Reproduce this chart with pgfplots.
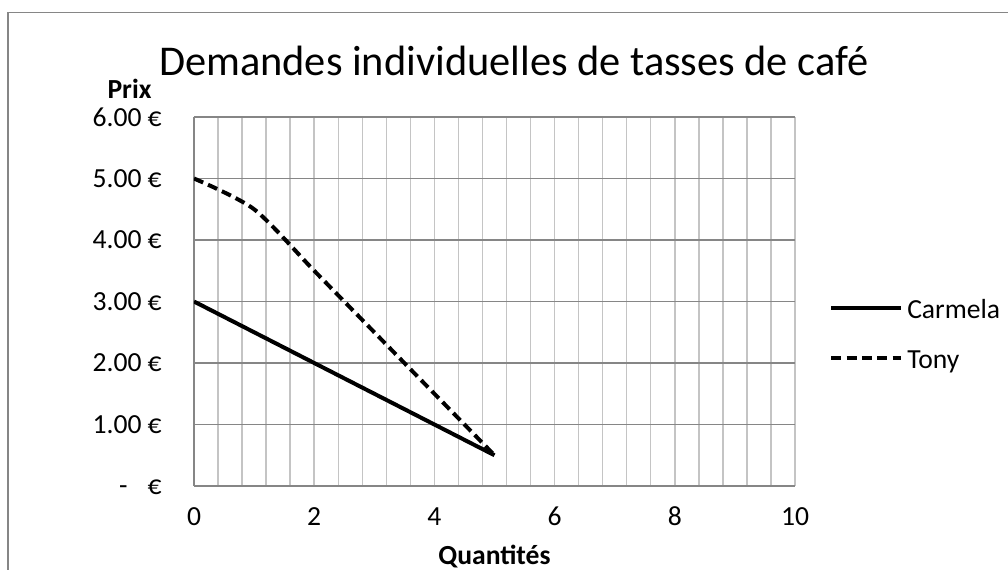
\documentclass[border=0pt]{standalone}
\usepackage{fontspec}
\setmainfont{Carlito}
\usepackage{pgfplots}
\pgfplotsset{compat=1.18}
\definecolor{axgray}{HTML}{868686}
\definecolor{gridlight}{HTML}{C4C4C4}
\begin{document}
\begin{tikzpicture}
\useasboundingbox (0,0) rectangle (756pt,427.5pt);
\draw[color=axgray, line width=1.1pt] (6pt,0pt) -- (6pt,418pt) -- (756pt,418pt);
\begin{axis}[
  at={(145.5pt,63pt)}, anchor=south west,
  scale only axis, width=450.75pt, height=276.75pt,
  xmin=0, xmax=10, ymin=0, ymax=6,
  xtick={0,2,...,10},
  minor xtick={0,0.4,...,10},
  ytick={0,1,2,3,4,5,6},
  yticklabels={{\phantom{0.}-\phantom{0} €},{1.00 €},{2.00 €},{3.00 €},{4.00 €},{5.00 €},{6.00 €}},
  major tick length=0pt, minor tick length=0pt,
  xmajorgrids=false, xminorgrids=true, ymajorgrids=true,
  minor grid style={color=gridlight, line width=1.1pt},
  major grid style={color=axgray, line width=1.1pt},
  axis lines*=left,
  axis line style={color=axgray, line width=1.5pt},
  tick label style={font=\fontsize{20.7}{24}\selectfont, inner sep=0pt},
  yticklabel style={anchor=east, xshift=-24pt},
  xticklabel style={anchor=north, yshift=-23pt, text height=0.63em, text depth=0pt},
  /pgf/number format/assume math mode=true,
  title={Demandes individuelles de tasses de café},
  title style={at={(axis description cs:0.532,1.09)}, anchor=base, inner sep=0pt, font=\fontsize{31.8}{36}\selectfont},
  xlabel={Quantités},
  xlabel style={at={(axis description cs:0.5,-0.212)}, anchor=base, inner sep=0pt, font=\fontsize{20.7}{24}\selectfont\bfseries},
  ylabel={Prix},
  ylabel style={at={(axis description cs:-0.1073,1.05)}, rotate=-90, anchor=base, inner sep=0pt, font=\fontsize{20.7}{24}\selectfont\bfseries},
  legend cell align=left,
  legend style={draw=none, fill=none, at={(axis description cs:1.0566,0.3984)}, anchor=west,
    inner sep=0pt, row sep=26pt, font=\fontsize{20.7}{24}\selectfont,
    nodes={inner sep=0pt, text height=0.7em, text depth=0.2em}},
  /tikz/every odd column/.append style={column sep=3pt},
  legend image code/.code={\draw[#1] (0pt,5.5pt) -- (52.5pt,5.5pt);},
]
\addplot[black, line width=3pt] coordinates {(0,3) (1,2.5) (2,2) (3,1.5) (4,1) (5,0.5)};
\addlegendentry{Carmela}
\addplot[black, line width=3pt, dash pattern=on 7.5pt off 4pt, smooth, tension=0.45] coordinates {(0,5) (1,4.5) (2,3.5) (3,2.5) (4,1.5) (5,0.5)};
\addlegendentry{Tony}
\end{axis}
\end{tikzpicture}
\end{document}
